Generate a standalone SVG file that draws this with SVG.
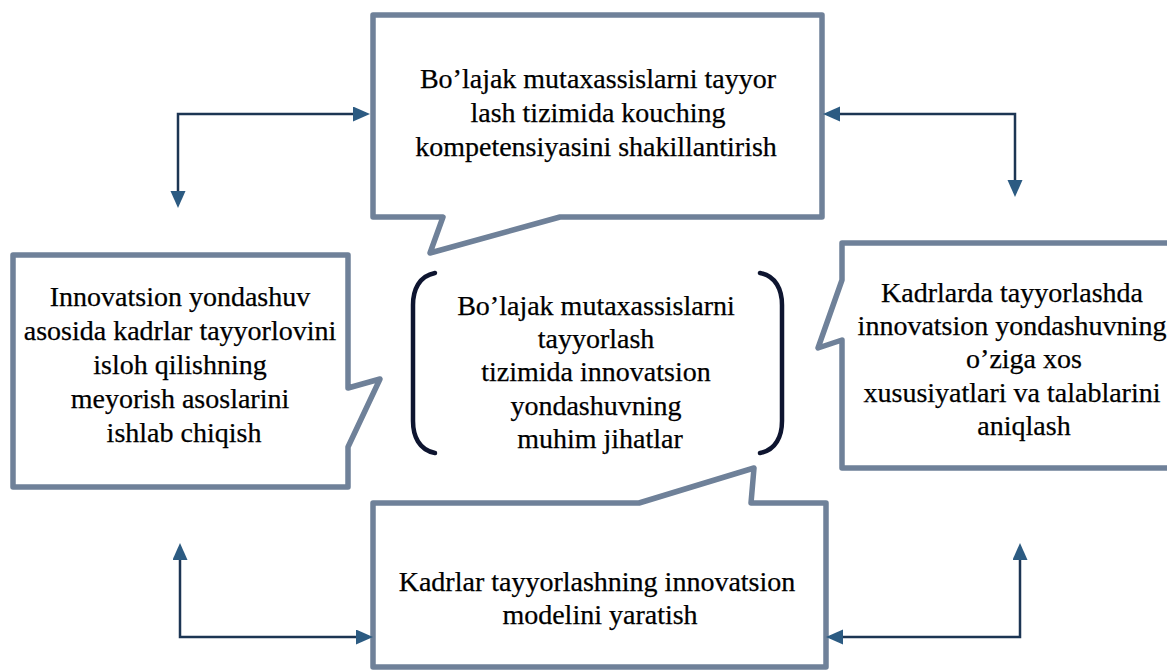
<svg xmlns="http://www.w3.org/2000/svg" width="1167" height="670" viewBox="0 0 1167 670">
  <defs>
    <marker id="ah" markerUnits="userSpaceOnUse" markerWidth="18" markerHeight="16" refX="13" refY="7.5" orient="auto-start-reverse">
      <path d="M0,0 L17,7.5 L0,15 Z" fill="#2c5b82"/>
    </marker>
    <style>
      .box { fill: #ffffff; stroke: #6f8199; stroke-width: 5.5; stroke-linejoin: round; }
      .conn { fill: none; stroke: #1c3553; stroke-width: 2.5; marker-start: url(#ah); marker-end: url(#ah); }
      .br { fill: none; stroke: #0e1530; stroke-width: 4.5; stroke-linecap: round; }
      text { font-family: "Liberation Serif", "Times New Roman", serif; font-size: 28px; fill: #000000; stroke: #000000; stroke-width: 0.25; text-anchor: middle; }
    </style>
  </defs>
  <rect width="1167" height="670" fill="#ffffff"/>

  <g id="node-top">
    <path class="box" d="M373,15 H822 V217 H560 L430,253 L443,217 H373 Z"/>
    <text x="598" y="88">Bo’lajak mutaxassislarni tayyor</text>
    <text x="598" y="122">lash tizimida kouching</text>
    <text x="596" y="156">kompetensiyasini shakillantirish</text>
  </g>

  <g id="node-left">
    <path class="box" d="M13,255 H348 V388 L380,379 L348,447 V487 H13 Z"/>
    <text x="180" y="306">Innovatsion yondashuv</text>
    <text x="180" y="340">asosida kadrlar tayyorlovini</text>
    <text x="180" y="374">isloh qilishning</text>
    <text x="180" y="408">meyorish asoslarini</text>
    <text x="184" y="442">ishlab chiqish</text>
  </g>

  <g id="node-right">
    <path class="box" d="M842,243 H1180 V468 H842 V340 L818,348 L842,280 Z"/>
    <text x="1012" y="302">Kadrlarda tayyorlashda</text>
    <text x="1012" y="335">innovatsion yondashuvning</text>
    <text x="1024" y="368">o’ziga xos</text>
    <text x="1012" y="402">xususiyatlari va talablarini</text>
    <text x="1024" y="435">aniqlash</text>
  </g>

  <g id="node-bottom">
    <path class="box" d="M373,503 H639 L754,468 L751,503 H826 V667 H373 Z"/>
    <text x="597" y="591">Kadrlar tayyorlashning innovatsion</text>
    <text x="600" y="624">modelini yaratish</text>
  </g>

  <g id="node-center">
    <path class="br" d="M435,273 C419,276 413,290 413,305 V421 C413,436 419,450 435,453"/>
    <path class="br" d="M760,273 C776,276 782,290 782,305 V421 C782,436 776,450 760,453"/>
    <text x="596" y="315">Bo’lajak mutaxassislarni</text>
    <text x="596" y="348">tayyorlash</text>
    <text x="596" y="381">tizimida innovatsion</text>
    <text x="596" y="415">yondashuvning</text>
    <text x="600" y="448">muhim jihatlar</text>
  </g>

  <g id="connectors">
    <path class="conn" d="M366,114 H178 V204"/>
    <path class="conn" d="M827,114 H1015 V193"/>
    <path class="conn" d="M369,637 H180 V547"/>
    <path class="conn" d="M830,637 H1020 V547"/>
  </g>
</svg>
